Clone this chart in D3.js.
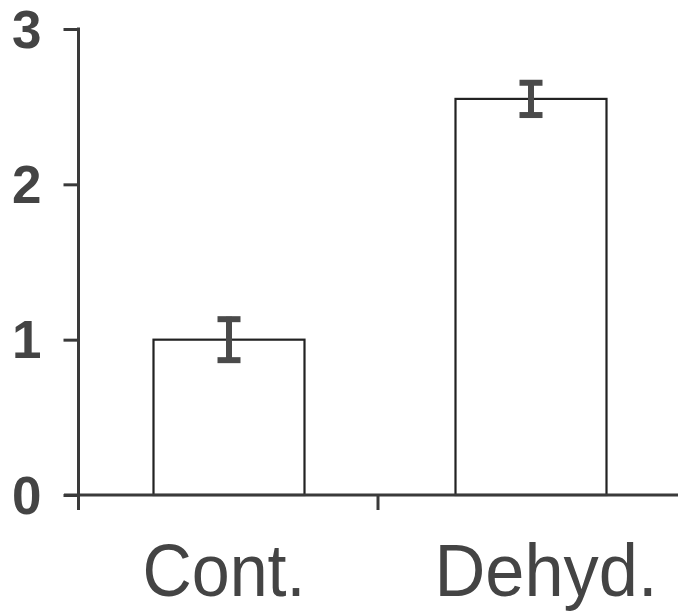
<!DOCTYPE html>
<html>
<head>
<meta charset="utf-8">
<script src="https://cdn.jsdelivr.net/npm/d3@7"></script>
<style>
  html, body { margin: 0; padding: 0; background: #fff; }
  svg { display: block; }
</style>
</head>
<body>
<svg id="chart" width="678" height="613"></svg>
<script>
const categories = ["Cont.", "Dehyd."];
const means = [1.0, 2.55];
const errors = [0.148, 0.12];
const yTicks = [0, 1, 2, 3];

const svg = d3.select("#chart");
const ink = "#3a3a3a";

const y = d3.scaleLinear().domain([0, 3]).range([495, 29]);
const x = d3.scaleBand().domain(categories).range([78, 682]).paddingInner(0.5).paddingOuter(0.25);

// Bars
svg.selectAll("rect.bar").data(categories).enter().append("rect")
  .attr("class", "bar")
  .attr("x", d => x(d))
  .attr("y", (d, i) => y(means[i]))
  .attr("width", x.bandwidth())
  .attr("height", (d, i) => y(0) - y(means[i]))
  .attr("fill", "#fff")
  .attr("stroke", "#222")
  .attr("stroke-width", 2.2);

// Error bars
const eb = svg.append("g").attr("stroke", "#4a4a4a");
categories.forEach((c, i) => {
  const cx = x(c) + x.bandwidth() / 2;
  const top = y(means[i] + errors[i]);
  const bot = y(means[i] - errors[i]);
  eb.append("line").attr("x1", cx).attr("x2", cx).attr("y1", top).attr("y2", bot).attr("stroke-width", 6);
  eb.append("line").attr("x1", cx - 11.5).attr("x2", cx + 11.5).attr("y1", top + 2.5).attr("y2", top + 2.5).attr("stroke-width", 6);
  eb.append("line").attr("x1", cx - 11.5).attr("x2", cx + 11.5).attr("y1", bot - 2.5).attr("y2", bot - 2.5).attr("stroke-width", 6);
});

// Y axis
const yAxis = d3.axisLeft(y).tickValues(yTicks).tickSize(15).tickPadding(22).tickFormat(d3.format("d"));
const gy = svg.append("g").attr("transform", "translate(78.5,0)").call(yAxis);
gy.select(".domain").remove();
gy.append("line").attr("x1", 0).attr("x2", 0).attr("y1", y(3) - 1.5).attr("y2", 510).attr("stroke", ink).attr("stroke-width", 3);
gy.selectAll(".tick line").attr("stroke", ink).attr("stroke-width", 3);
gy.selectAll(".tick text")
  .attr("fill", "#444")
  .style("font-family", "'Liberation Sans', Arial, sans-serif")
  .style("font-weight", "bold")
  .style("font-size", "53px")
  .attr("dy", "0.34em");

// X axis
const gx = svg.append("g").attr("transform", "translate(0," + y(0) + ")");
gx.append("line").attr("x1", 64).attr("x2", 678).attr("y1", 0).attr("y2", 0).attr("stroke", ink).attr("stroke-width", 3);
const sepX = x(categories[1]) - (x.step() - x.bandwidth()) / 2;
gx.append("line").attr("x1", sepX - 2).attr("x2", sepX - 2).attr("y1", 0).attr("y2", 15).attr("stroke", ink).attr("stroke-width", 3);

// Category labels
const labelDx = [-5, 15];
const labelLen = [163, 223];
svg.selectAll("text.cat").data(categories).enter().append("text")
  .attr("class", "cat")
  .attr("x", (d, i) => x(d) + x.bandwidth() / 2 + labelDx[i])
  .attr("y", 596)
  .attr("text-anchor", "middle")
  .attr("fill", "#444")
  .attr("textLength", (d, i) => labelLen[i])
  .attr("lengthAdjust", "spacingAndGlyphs")
  .style("font-family", "'Liberation Sans', Arial, sans-serif")
  .style("font-size", "74px")
  .text(d => d);
</script>
</body>
</html>
